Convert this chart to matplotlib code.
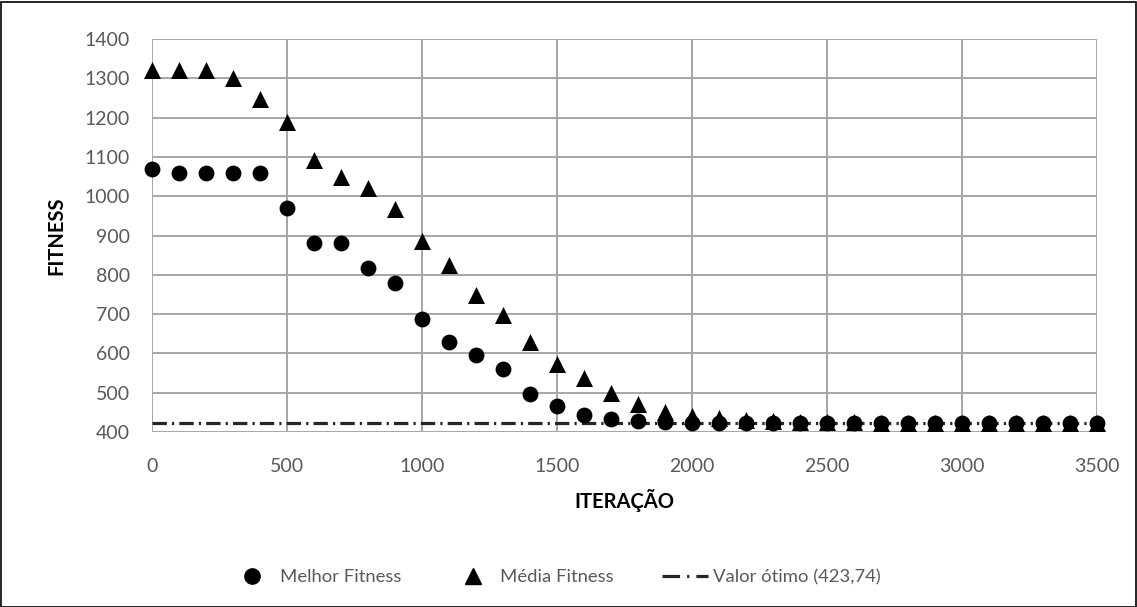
import matplotlib
matplotlib.use("Agg")
import matplotlib.pyplot as plt
from matplotlib.patches import Rectangle
from matplotlib.lines import Line2D

iteracao = list(range(0, 3600, 100))
melhor = [1068, 1060, 1060, 1060, 1060, 970, 880, 880, 818, 780, 687, 630, 595, 560,
          497, 465, 443, 432, 428, 425, 424, 424, 424, 424, 424, 424, 424, 424, 424,
          424, 424, 424, 424, 424, 424, 424]
media = [1322, 1322, 1322, 1302, 1248, 1190, 1093, 1050, 1020, 968, 886, 826, 748, 697,
         628, 572, 537, 500, 472, 452, 440, 436, 430, 428, 426, 425, 425, 424, 424,
         424, 424, 424, 424, 424, 424, 424]
otimo = 423.74
xticks = [0, 500, 1000, 1500, 2000, 2500, 3000, 3500]
yticks = [400, 500, 600, 700, 800, 900, 1000, 1100, 1200, 1300, 1400]

plt.rcParams['font.family'] = ['Lato', 'DejaVu Sans']

W, H = 1137, 607
fig = plt.figure(figsize=(W / 100, H / 100), dpi=100)
ax = fig.add_axes([152 / W, 1 - 432 / H, (1097 - 152) / W, (432 - 39) / H])

grid_c = '#a6a6a6'
ax.set_xlim(0, 3500)
ax.set_ylim(400, 1400)
ax.set_xticks(xticks)
ax.set_yticks(yticks)
ax.grid(True, color=grid_c, linewidth=1.4)
ax.set_axisbelow(True)
for s in ax.spines.values():
    s.set_visible(False)
ax.tick_params(length=0, labelsize=14, colors='#595959')
ax.tick_params(axis='x', pad=19)
ax.tick_params(axis='y', pad=16)

ax.plot([0, 3500], [otimo, otimo], color='#262626', linewidth=2.3,
        dashes=(4.5, 1.6, 0.7, 1.6), zorder=2, clip_on=False)
ax.scatter(iteracao, melhor, marker='o', s=130, color='black',
           zorder=3, clip_on=False, linewidths=0)
ax.scatter(iteracao, media, marker='^', s=150, color='black',
           zorder=3, clip_on=False, linewidths=0)

ax.set_xlabel('ITERAÇÃO', fontsize=14.5, fontweight='bold', labelpad=10)
ax.set_ylabel('FITNESS', fontsize=14.5, fontweight='bold', labelpad=13)

h_melhor = Line2D([], [], linestyle='none', marker='o', markersize=11, color='black')
h_media = Line2D([], [], linestyle='none', marker='^', markersize=11, color='black')
h_otimo = Line2D([], [], color='#262626', linewidth=2.3, dashes=(5.5, 2.2, 0.7, 2.2))
leg = fig.legend([h_melhor, h_media, h_otimo],
                 ['Melhor Fitness', 'Média Fitness', 'Valor ótimo (423,74)'],
                 loc='center', bbox_to_anchor=(0.488, 1 - 577 / H), ncol=3, frameon=False,
                 fontsize=13.3, handlelength=2.5, handletextpad=0.25, columnspacing=2.6)
for t in leg.get_texts():
    t.set_color('#595959')

fig.patches.append(Rectangle((0.5 / W, 0.5 / H), 1 - 2 / W, 1 - 2 / H, transform=fig.transFigure,
                             fill=False, edgecolor='black', linewidth=1.2))

fig.savefig('out.png', dpi=100)
